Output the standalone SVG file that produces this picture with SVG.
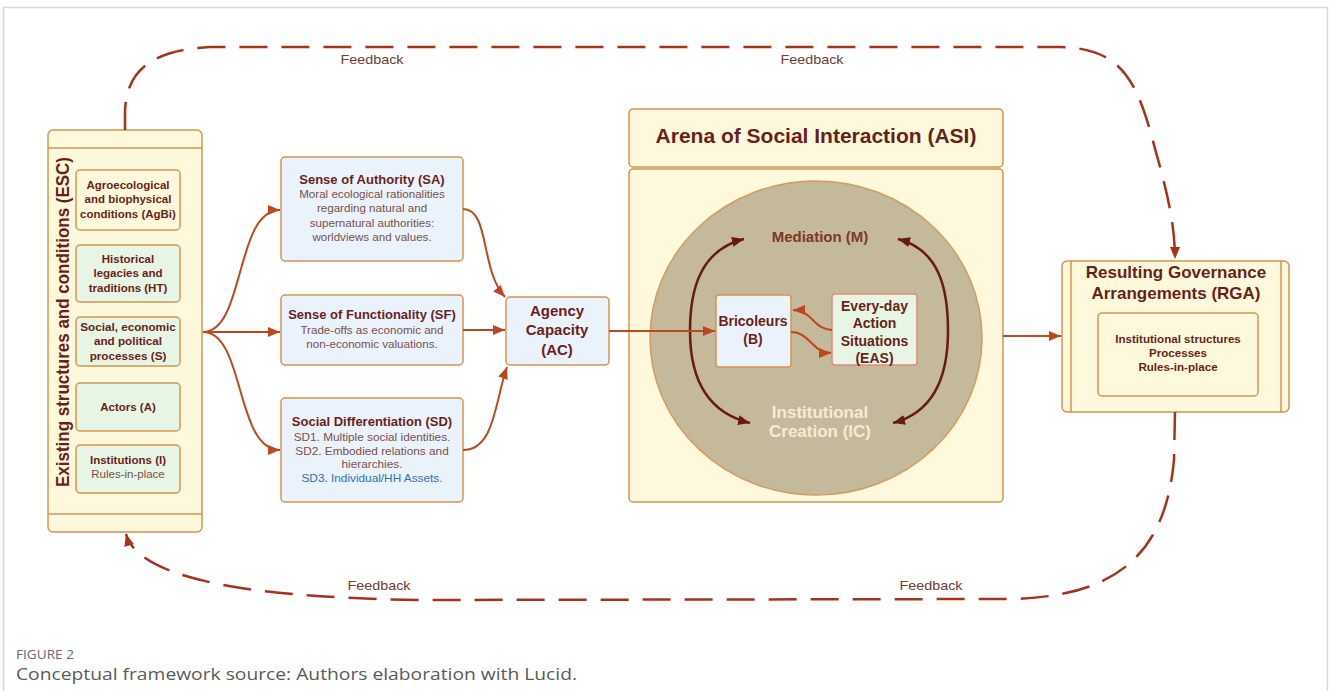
<svg xmlns="http://www.w3.org/2000/svg" width="1331" height="691" viewBox="0 0 1331 691">
  <style>
    .cream { fill: #fef9dc; stroke: #d4954f; stroke-width: 1.5; }
    .green { fill: #e6f5e4; stroke: #d4954f; stroke-width: 1.5; }
    .blue { fill: #eaf2fb; stroke: #d4954f; stroke-width: 1.5; }
    .t { font-family: "Liberation Sans", Arial, sans-serif; text-anchor: middle; }
    .b { font-weight: bold; fill: #6a1f1a; }
    .n { fill: #7b504a; }
    .flow { fill: none; stroke: #c0461e; stroke-width: 2; }
    .loop { fill: none; stroke: #6a1a10; stroke-width: 2.5; }
    .fb { fill: none; stroke: #a8301c; stroke-width: 2.5; stroke-dasharray: 28 14; }
    .fbl { font-family: "Liberation Sans", Arial, sans-serif; font-size: 13.5px; fill: #6b4038; text-anchor: middle; }
  </style>
  <defs>
    <marker id="ah" markerUnits="userSpaceOnUse" markerWidth="14" markerHeight="12" refX="12" refY="5" orient="auto-start-reverse">
      <path d="M0,0 L12,5 L0,10 z" fill="#c0461e"/>
    </marker>
    <marker id="ahm" markerUnits="userSpaceOnUse" markerWidth="14" markerHeight="12" refX="12" refY="5" orient="auto-start-reverse">
      <path d="M0,0 L12,5 L0,10 z" fill="#6a1a10"/>
    </marker>
    <marker id="ahf" markerUnits="userSpaceOnUse" markerWidth="14" markerHeight="12" refX="12" refY="5" orient="auto">
      <path d="M0,0 L12,5 L0,10 z" fill="#a8301c"/>
    </marker>
  </defs>

  <!-- page -->
  <rect x="0" y="0" width="1331" height="691" fill="#ffffff"/>
  <rect x="3.5" y="7.5" width="1324" height="700" fill="none" stroke="#d8d8d8" stroke-width="1.5"/>

  <!-- Existing structures and conditions -->
  <g id="esc">
    <rect class="cream" x="48" y="130" width="154" height="402" rx="5"/>
    <line x1="48" y1="148" x2="202" y2="148" stroke="#d4954f" stroke-width="1.5"/>
    <line x1="48" y1="514" x2="202" y2="514" stroke="#d4954f" stroke-width="1.5"/>
    <text class="t b" font-size="18" transform="translate(69,322) rotate(-90)" textLength="330" lengthAdjust="spacingAndGlyphs">Existing structures and conditions (ESC)</text>
  </g>
  <g id="agbi">
    <rect class="cream" x="76" y="170" width="104" height="60" rx="4"/>
    <text class="t b" font-size="11.5" x="128" y="189">Agroecological</text>
    <text class="t b" font-size="11.5" x="128" y="203">and biophysical</text>
    <text class="t b" font-size="11.5" x="128" y="218">conditions (AgBi)</text>
  </g>
  <g id="ht">
    <rect class="green" x="76" y="245" width="104" height="57" rx="4"/>
    <text class="t b" font-size="11.5" x="128" y="263">Historical</text>
    <text class="t b" font-size="11.5" x="128" y="277">legacies and</text>
    <text class="t b" font-size="11.5" x="128" y="292">traditions (HT)</text>
  </g>
  <g id="sep">
    <rect class="green" x="76" y="317" width="104" height="49" rx="4"/>
    <text class="t b" font-size="11.7" x="128" y="331">Social, economic</text>
    <text class="t b" font-size="11.7" x="128" y="345">and political</text>
    <text class="t b" font-size="11.7" x="128" y="360">processes (S)</text>
  </g>
  <g id="actors">
    <rect class="green" x="76" y="383" width="104" height="48" rx="4"/>
    <text class="t b" font-size="11.5" x="128" y="411">Actors (A)</text>
  </g>
  <g id="institutions">
    <rect class="green" x="76" y="445" width="104" height="48" rx="4"/>
    <text class="t b" font-size="11.5" x="128" y="464">Institutions (I)</text>
    <text class="t n" font-size="11.5" x="128" y="478">Rules-in-place</text>
  </g>

  <!-- Senses -->
  <g id="sa">
    <rect class="blue" x="281" y="157" width="182" height="104" rx="4"/>
    <text class="t b" font-size="13" x="372" y="184">Sense of Authority (SA)</text>
    <text class="t n" font-size="11.6" x="372" y="198">Moral ecological rationalities</text>
    <text class="t n" font-size="11.6" x="372" y="212">regarding natural and</text>
    <text class="t n" font-size="11.6" x="372" y="227">supernatural authorities:</text>
    <text class="t n" font-size="11.6" x="372" y="241">worldviews  and values.</text>
  </g>
  <g id="sf">
    <rect class="blue" x="281" y="295" width="182" height="70" rx="4"/>
    <text class="t b" font-size="13" x="372" y="319">Sense of Functionality (SF)</text>
    <text class="t n" font-size="11.6" x="372" y="334">Trade-offs as economic and</text>
    <text class="t n" font-size="11.6" x="372" y="348">non-economic valuations.</text>
  </g>
  <g id="sd">
    <rect class="blue" x="281" y="398" width="182" height="104" rx="4"/>
    <text class="t b" font-size="13" x="372" y="426">Social Differentiation (SD)</text>
    <text class="t n" font-size="11.8" x="372" y="441">SD1. Multiple social identities.</text>
    <text class="t n" font-size="11.8" x="372" y="455">SD2. Embodied relations and</text>
    <text class="t n" font-size="11.8" x="372" y="468">hierarchies.</text>
    <text class="t" font-size="11.8" x="372" y="482" fill="#2f6fb8">SD3. Individual/HH Assets<tspan fill="#7b504a">.</tspan></text>
  </g>

  <!-- Agency capacity -->
  <g id="ac">
    <rect class="blue" x="506" y="297" width="103" height="68" rx="4"/>
    <text class="t b" font-size="15" x="557" y="316">Agency</text>
    <text class="t b" font-size="15" x="557" y="335">Capacity</text>
    <text class="t b" font-size="15" x="557" y="355">(AC)</text>
  </g>

  <!-- Arena of social interaction -->
  <g id="asi">
    <rect class="cream" x="629" y="109" width="374" height="58" rx="4"/>
    <text class="t b" font-size="21" x="816" y="143" fill="#5c1812">Arena of Social Interaction (ASI)</text>
    <rect class="cream" x="629" y="169" width="374" height="333" rx="4"/>
    <ellipse cx="816" cy="338" rx="166" ry="157" fill="#c5b99b" stroke="#d39b5c" stroke-width="1.5"/>
    <text class="t" font-size="15" font-weight="bold" x="820" y="242" fill="#7a3a2a">Mediation (M)</text>
    <text class="t" font-size="17" font-weight="bold" x="820" y="418" fill="#f2ecd8">Institutional</text>
    <text class="t" font-size="17" font-weight="bold" x="820" y="437" fill="#f2ecd8">Creation (IC)</text>
    <path class="loop" d="M744,239 C700,250 690,290 690,331 C690,375 705,412 750,423" marker-start="url(#ahm)" marker-end="url(#ahm)"/>
    <path class="loop" d="M898,239 C940,250 948,290 948,331 C948,375 935,412 893,423" marker-start="url(#ahm)" marker-end="url(#ahm)"/>
  </g>
  <g id="bricoleurs">
    <rect class="blue" x="716" y="295" width="75" height="72" rx="3"/>
    <text class="t b" font-size="14" x="753" y="326">Bricoleurs</text>
    <text class="t b" font-size="14" x="753" y="344">(B)</text>
  </g>
  <g id="eas">
    <rect x="832" y="294" width="85" height="71" rx="3" fill="#e6f5e4" stroke="#e08a7a" stroke-width="1.5"/>
    <text class="t b" font-size="14" x="874.5" y="311">Every-day</text>
    <text class="t b" font-size="14" x="874.5" y="328">Action</text>
    <text class="t b" font-size="14" x="874.5" y="346">Situations</text>
    <text class="t b" font-size="14" x="874.5" y="363">(EAS)</text>
  </g>

  <!-- Resulting governance arrangements -->
  <g id="rga">
    <rect class="cream" x="1062" y="261" width="227" height="151" rx="5"/>
    <line x1="1071" y1="261" x2="1071" y2="412" stroke="#d4954f" stroke-width="1.5"/>
    <line x1="1281" y1="261" x2="1281" y2="412" stroke="#d4954f" stroke-width="1.5"/>
    <text class="t b" font-size="17" x="1176" y="278">Resulting Governance</text>
    <text class="t b" font-size="17" x="1176" y="299">Arrangements (RGA)</text>
    <rect class="cream" x="1098" y="313" width="160" height="83" rx="4"/>
    <text class="t b" font-size="11.6" x="1178" y="343">Institutional structures</text>
    <text class="t b" font-size="11.6" x="1178" y="357">Processes</text>
    <text class="t b" font-size="11.6" x="1178" y="371">Rules-in-place</text>
  </g>

  <!-- connectors -->
  <g id="connectors">
    <path class="fb" d="M125,130 L125,112 C126,72 150,50 210,47 L1060,47 C1120,48 1135,80 1150,130 C1162,175 1175,215 1175,259" marker-end="url(#ahf)"/>
    <path class="fb" d="M1175,412 L1174,460 C1165,560 1110,597 1010,599 L420,600 C280,598 140,585 126,534" marker-end="url(#ahf)"/>
    <path class="flow" d="M203,332 C245,332 235,210 280,210" marker-end="url(#ah)"/>
    <path class="flow" d="M203,332 L280,332" marker-end="url(#ah)"/>
    <path class="flow" d="M203,332 C245,332 235,450 280,450" marker-end="url(#ah)"/>
    <path class="flow" d="M463,209 C490,209 480,270 505,297" marker-end="url(#ah)"/>
    <path class="flow" d="M463,330 L505,330" marker-end="url(#ah)"/>
    <path class="flow" d="M463,450 C495,450 495,400 507,367" marker-end="url(#ah)"/>
    <path class="flow" d="M609,331 L715,331" marker-end="url(#ah)"/>
    <path class="flow" stroke-width="1.6" d="M832,330 C814,330 812,310 793,310" marker-end="url(#ah)"/>
    <path class="flow" stroke-width="1.6" d="M791,332 C810,332 812,353 831,353" marker-end="url(#ah)"/>
    <path class="flow" d="M1003,336 L1061,336" marker-end="url(#ah)"/>
  </g>

  <!-- feedback labels -->
  <g id="feedback-labels">
    <text class="fbl" x="372" y="64" textLength="63" lengthAdjust="spacingAndGlyphs">Feedback</text>
    <text class="fbl" x="812" y="64" textLength="63" lengthAdjust="spacingAndGlyphs">Feedback</text>
    <text class="fbl" x="379" y="590" textLength="63" lengthAdjust="spacingAndGlyphs">Feedback</text>
    <text class="fbl" x="931" y="590" textLength="63" lengthAdjust="spacingAndGlyphs">Feedback</text>
  </g>

  <!-- caption -->
  <g id="caption">
    <text x="16" y="659" font-family="Open Sans, Liberation Sans, sans-serif" font-size="12.5" fill="#6a6a6a" textLength="58" lengthAdjust="spacingAndGlyphs">FIGURE 2</text>
    <text x="16" y="680" font-family="Open Sans, Liberation Sans, sans-serif" font-size="17" fill="#5a5a5a" textLength="561" lengthAdjust="spacingAndGlyphs">Conceptual framework source: Authors elaboration with Lucid.</text>
  </g>
</svg>
